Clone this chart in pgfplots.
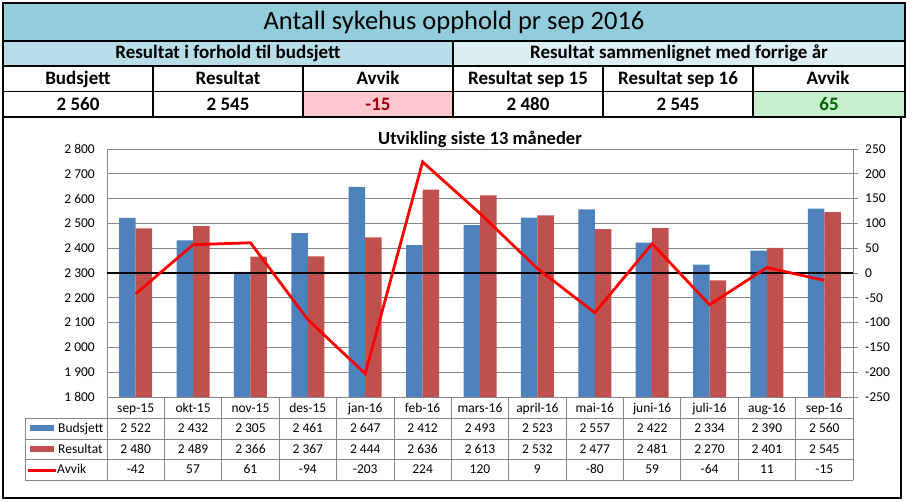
\documentclass[border=0pt]{standalone}
\usepackage{pgfplots}
\pgfplotsset{compat=1.18}
\usepackage{fontspec}
\setmainfont{Carlito}
\definecolor{titlebg}{HTML}{92CDDC}
\definecolor{subL}{HTML}{B7DEE8}
\definecolor{subR}{HTML}{DAEEF3}
\definecolor{badbg}{HTML}{FFC7CE}
\definecolor{badfg}{HTML}{9C0006}
\definecolor{goodbg}{HTML}{C6EFCE}
\definecolor{goodfg}{HTML}{006100}
\definecolor{barblue}{HTML}{4F81BD}
\definecolor{barred}{HTML}{C0504D}
\definecolor{gridgray}{HTML}{868686}
\newcommand\tf{\fontsize{13.5}{15}\selectfont}
\newcommand\hf{\fontsize{19}{22}\selectfont\bfseries}
\begin{document}
\begin{tikzpicture}[x=1pt,y=1pt]
\path[use as bounding box] (0,0) rectangle (907,502);
\begin{scope}[yshift=502pt, y=-1pt]
% ---------- header table ----------
\fill[titlebg] (3,3) rectangle (905,41);
\fill[subL] (3,41) rectangle (453,66);
\fill[subR] (453,41) rectangle (905,66);
\fill[badbg] (303,92) rectangle (453,117);
\fill[goodbg] (753,92) rectangle (905,117);
\draw[line width=1.5pt] (3,41) -- (905,41) (3,66)--(905,66) (3,91.5)--(905,91.5);
\draw[line width=1.5pt] (453,41)--(453,117);
\foreach \x in {153,303,603,753} \draw[line width=1.5pt] (\x,66)--(\x,117);
\draw[line width=2.5pt] (3,3) rectangle (905,117);
\node[anchor=base, font=\fontsize{26.5}{30}\selectfont, inner sep=0] at (454,30) {Antall sykehus opphold pr sep 2016};
\node[anchor=base, font=\hf, inner sep=0] at (228,59) {Resultat i forhold til budsjett};
\node[anchor=base, font=\hf, inner sep=0] at (679,59) {Resultat sammenlignet med forrige år};
\foreach \t [count=\i from 0] in {Budsjett,Resultat,Avvik,Resultat sep 15,Resultat sep 16,Avvik}
  \node[anchor=base, font=\hf, inner sep=0] at ({78+150*\i},85) {\t};
\node[anchor=base, font=\hf, inner sep=0] at (78,111) {2 560};
\node[anchor=base, font=\hf, inner sep=0] at (228,111) {2 545};
\node[anchor=base, font=\hf, inner sep=0, text=badfg] at (378,111) {-15};
\node[anchor=base, font=\hf, inner sep=0] at (528,111) {2 480};
\node[anchor=base, font=\hf, inner sep=0] at (678,111) {2 545};
\node[anchor=base, font=\hf, inner sep=0, text=goodfg] at (829,111) {65};
% ---------- chart frame ----------
\draw[line width=2pt] (3,117) rectangle (901,498);
\node[anchor=base, font=\fontsize{18.5}{21}\selectfont\bfseries, inner sep=0] at (480,145) {Utvikling siste 13 måneder};
% ---------- data table ----------
\draw[gridgray, line width=0.8pt] (25,418.5)--(853,418.5) (25,439)--(853,439) (25,459.5)--(853,459.5) (25,480)--(853,480);
\draw[gridgray, line width=0.8pt] (25,418.5)--(25,480);
\foreach \k in {0,...,13} \draw[gridgray, line width=0.8pt] ({107+57.385*\k},397)--({107+57.385*\k},480);
\foreach \t [count=\i from 0] in {sep-15,okt-15,nov-15,des-15,jan-16,feb-16,mars-16,april-16,mai-16,juni-16,juli-16,aug-16,sep-16}
  \node[anchor=base, font=\tf, inner sep=0] at ({107+57.385*(\i+0.5)},412.5) {\t};
\foreach \t [count=\i from 0] in {2 522,2 432,2 305,2 461,2 647,2 412,2 493,2 523,2 557,2 422,2 334,2 390,2 560}
  \node[anchor=base, font=\tf, inner sep=0] at ({107+57.385*(\i+0.5)},433) {\t};
\foreach \t [count=\i from 0] in {2 480,2 489,2 366,2 367,2 444,2 636,2 613,2 532,2 477,2 481,2 270,2 401,2 545}
  \node[anchor=base, font=\tf, inner sep=0] at ({107+57.385*(\i+0.5)},453.5) {\t};
\foreach \t [count=\i from 0] in {-42,57,61,-94,-203,224,120,9,-80,59,-64,11,-15}
  \node[anchor=base, font=\tf, inner sep=0] at ({107+57.385*(\i+0.5)},474) {\t};
\fill[barblue] (30,425.5) rectangle (54,431.5);
\fill[barred] (30,446) rectangle (54,452);
\draw[red, line width=2.8pt] (28,470.3)--(56,470.3);
\node[anchor=base west, font=\tf, inner sep=0] at (58,433) {Budsjett};
\node[anchor=base west, font=\tf, inner sep=0] at (58,453.5) {Resultat};
\node[anchor=base west, font=\tf, inner sep=0] at (57,474) {Avvik};
\end{scope}
% ---------- primary axis ----------
\begin{axis}[
  at={(107pt,105pt)}, anchor=south west, scale only axis,
  width=746pt, height=248pt,
  xmin=-0.5, xmax=12.5, ymin=1800, ymax=2800,
  ytick={1800,1900,...,2800},
  yticklabels={1 800,1 900,2 000,2 100,2 200,2 300,2 400,2 500,2 600,2 700,2 800},
  xtick=\empty,
  axis lines*=left,
  axis line style={gridgray, line width=0.8pt},
  major tick length=0pt,
  ymajorgrids, grid style={gridgray, line width=0.8pt},
  yticklabel style={font=\tf, inner sep=0pt, anchor=east, xshift=-12pt},
  ybar=0pt, bar width=16.5pt,
]
\addplot[fill=barblue, draw=none] coordinates {(0,2522)(1,2432)(2,2305)(3,2461)(4,2647)(5,2412)(6,2493)(7,2523)(8,2557)(9,2422)(10,2334)(11,2390)(12,2560)};
\addplot[fill=barred, draw=none] coordinates {(0,2480)(1,2489)(2,2366)(3,2367)(4,2444)(5,2636)(6,2613)(7,2532)(8,2477)(9,2481)(10,2270)(11,2401)(12,2545)};
\end{axis}
% ---------- secondary axis ----------
\begin{axis}[
  at={(107pt,105pt)}, anchor=south west, scale only axis,
  width=746pt, height=248pt,
  xmin=-0.5, xmax=12.5, ymin=-250, ymax=250,
  ytick={-250,-200,...,250},
  yticklabels={-250,-200,-150,-100,-50,0,50,100,150,200,250},
  axis y line*=right, axis x line=none,
  axis line style={gridgray, line width=0.8pt},
  tick style={gridgray, line width=0.8pt},
  ytick align=outside, major tick length=5pt,
  yticklabel style={font=\tf, inner sep=0pt, anchor=west, xshift=7pt},
]
\addplot[black, line width=1.8pt, mark=none] coordinates {(-0.5,0)(12.5,0)};
\addplot[red, line width=2.8pt, mark=none, line join=miter] coordinates {(0,-42)(1,57)(2,61)(3,-94)(4,-203)(5,224)(6,120)(7,9)(8,-80)(9,59)(10,-64)(11,11)(12,-15)};
\end{axis}
\end{tikzpicture}
\end{document}
